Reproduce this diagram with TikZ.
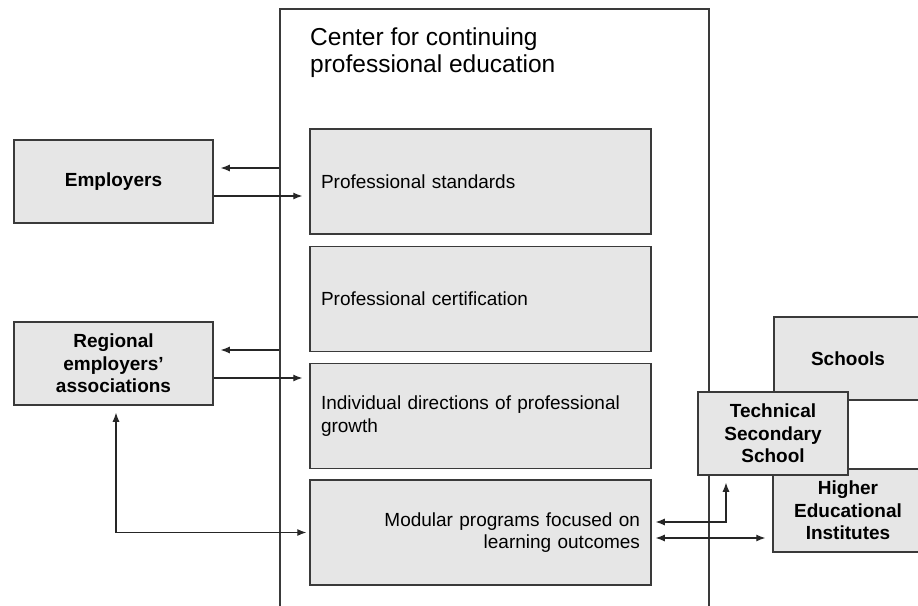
\documentclass[tikz,border=0pt]{standalone}
\usepackage{fontspec}
\setmainfont{Liberation Sans}
\usetikzlibrary{arrows.meta}
\definecolor{boxgray}{HTML}{E6E6E6}
\definecolor{edgegray}{HTML}{3A3A3A}
\begin{document}
\begin{tikzpicture}[x=1pt,y=-1pt,
  box/.style={draw=edgegray,line width=1.5pt,fill=boxgray,minimum width=341pt,minimum height=105pt,text width=319pt,inner sep=0pt,font=\fontsize{19}{22.5}\selectfont},
  side/.style={draw=edgegray,line width=1.5pt,fill=boxgray,minimum height=83pt,align=center,inner sep=0pt,font=\bfseries\fontsize{19}{22.5}\selectfont},
  arr/.style={draw=black!85,line width=1.1pt,-{Latex[length=9pt,width=7pt]}},
  twoway/.style={arr,{Latex[length=9pt,width=7pt]}-{Latex[length=9pt,width=7pt]}}]
\useasboundingbox (0,0) rectangle (918,605);
\clip (0,0) rectangle (918,605);
% outer frame, open at the bottom
\node [draw=edgegray,line width=1.2pt,minimum width=429pt,minimum height=631pt,inner sep=0pt] (cpe) at (494.5,324.5) {};
\node [anchor=north west,align=left,inner sep=0pt,font=\fontsize{24.5}{27}\selectfont] (title) at (310,28) {Center for continuing\\professional education};
% inner boxes
\node [box,align=left] (std) at (480.5,181.5) {Professional standards};
\node [box,align=left] (cert) at (480.5,299) {Professional certification};
\node [box,align=left] (ind) at (480.5,416) {Individual directions of professional\\growth};
\node [box,align=right] (mod) at (480.5,532.5) {Modular programs focused on\\learning outcomes};
% left side
\node [side,minimum width=199pt] (emp) at (113.5,181.5) {Employers};
\node [side,minimum width=199pt] (reg) at (113.5,363.5) {Regional\\employers’\\associations};
% right side
\node [side,minimum width=148pt] (sch) at (848,358.5) {Schools};
\node [side,minimum width=150pt] (high) at (848,510.5) {Higher\\Educational\\Institutes};
\node [side,minimum width=150pt] (tech) at (773,433.5) {Technical\\Secondary\\School};
% connectors
\draw [arr,shorten >=7pt] ([yshift=13.5pt]emp.east -| cpe.west) -- ([yshift=13.5pt]emp.east);
\draw [arr,shorten >=7pt] ([yshift=-14.5pt]emp.east) -- ([yshift=-14.5pt]emp.east -| std.west);
\draw [arr,shorten >=7pt] ([yshift=13.5pt]reg.east -| cpe.west) -- ([yshift=13.5pt]reg.east);
\draw [arr,shorten >=7pt] ([yshift=-14.5pt]reg.east) -- ([yshift=-14.5pt]reg.east -| ind.west);
\draw [twoway,shorten <=7pt,shorten >=3pt] ([xshift=2.5pt]reg.south) |- (mod.west);
\draw [twoway,shorten <=4pt,shorten >=7pt] ([yshift=10.5pt]mod.east) -| ([xshift=-47pt]tech.south);
\draw [twoway,shorten <=4pt,shorten >=7pt] ([yshift=-5.5pt]mod.east) -- ([yshift=-5.5pt]mod.east -| high.west);
\end{tikzpicture}
\end{document}
